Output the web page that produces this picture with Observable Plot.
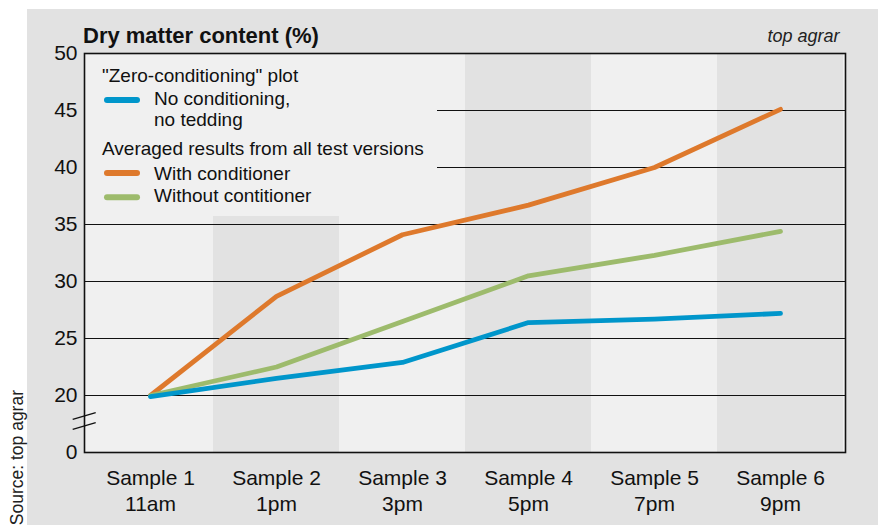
<!DOCTYPE html>
<html>
<head>
<meta charset="utf-8">
<script src="https://cdn.jsdelivr.net/npm/d3@7"></script>
<script src="https://cdn.jsdelivr.net/npm/@observablehq/plot@0.6"></script>
<style>
html, body { margin: 0; padding: 0; background: #fff; }
#chart svg {
  display: block;
  background:
    linear-gradient(#fff, #fff) 0 0 / 100% 9px no-repeat,
    linear-gradient(#fff, #fff) 0 0 / 27px 100% no-repeat,
    #e2e2e2;
}
</style>
</head>
<body>
<div id="chart"></div>
<script>
// ---- data ----
const samples = ["Sample 1", "Sample 2", "Sample 3", "Sample 4", "Sample 5", "Sample 6"];
const times = ["11am", "1pm", "3pm", "5pm", "7pm", "9pm"];
const noConditioning = [19.9, 21.5, 22.9, 26.4, 26.7, 27.2];
const withConditioner = [20.0, 28.7, 34.1, 36.7, 40.0, 45.1];
const withoutConditioner = [20.0, 22.5, 26.5, 30.5, 32.3, 34.4];
const shadedSamples = ["Sample 2", "Sample 4", "Sample 6"];
const yTicks = [15, 20, 25, 30, 35, 40, 45, 50];
const yTickLabels = ["0", "20", "25", "30", "35", "40", "45", "50"];
const gridValues = [20, 25, 30, 35, 40, 45];
const titleText = "Dry matter content (%)";
const brandText = "top agrar";
const sourceText = "Source: top agrar";
const legendGroup1 = "\"Zero-conditioning\" plot";
const legendGroup2 = "Averaged results from all test versions";
const seriesNames = ["No conditioning,\nno tedding", "With conditioner", "Without contitioner"];
const seriesColors = ["#0096cb", "#de792c", "#9dbb6c"];

// ---- layout/style ----
const FONT = "'Liberation Sans', Arial, Helvetica, sans-serif";
const LINE_W = 4.8;

const rowsOf = (vals) => samples.map((s, i) => ({sample: s, value: vals[i]}));

function overlay(draw) {
  return (...args) => {
    const dims = args.find(a => a && typeof a === "object" && "marginLeft" in a && "width" in a);
    const scales = args.find(a => a && typeof a === "object" && typeof a.y === "function");
    const g = d3.create("svg:g").attr("text-anchor", "start");
    draw(g, scales, dims);
    return g.node();
  };
}

// legend box + legend
const legendMark = overlay((g, scales, d) => {
  const L = d.marginLeft, T = d.marginTop;
  g.append("rect").attr("x", L).attr("y", T).attr("width", 353).attr("height", 163).attr("fill", "#f0f0f0");
  const txt = (x, y, s) => g.append("text").attr("x", L + x).attr("y", T + y).text(s)
    .attr("font-size", 19).attr("fill", "#111").attr("font-family", FONT).attr("text-anchor", "start");
  const sw = (y, c) => g.append("line").attr("x1", L + 23).attr("x2", L + 53)
    .attr("y1", T + y).attr("y2", T + y).attr("stroke", c).attr("stroke-width", 6).attr("stroke-linecap", "round");
  txt(18, 28.7, legendGroup1);
  sw(47, seriesColors[0]);
  const lines = seriesNames[0].split("\n");
  txt(70, 52, lines[0]);
  txt(70, 73, lines[1]);
  txt(18, 102, legendGroup2);
  sw(120, seriesColors[1]);
  txt(70, 127, seriesNames[1]);
  sw(144.3, seriesColors[2]);
  txt(70, 148.7, seriesNames[2]);
});

// titles, source, axis break
const annotMark = overlay((g, scales, d) => {
  const L = d.marginLeft, T = d.marginTop, R = d.width - d.marginRight;
  g.append("text").attr("x", L - 1).attr("y", T - 10.3).text(titleText).attr("text-anchor", "start")
    .attr("font-size", 22).attr("font-weight", "bold").attr("fill", "#111").attr("font-family", FONT);
  g.append("text").attr("x", R - 5.5).attr("y", T - 11.3).text(brandText)
    .attr("font-size", 18).attr("font-style", "italic").attr("text-anchor", "end").attr("fill", "#222").attr("font-family", FONT);
  g.append("text").attr("transform", `translate(22.5,390) rotate(-90)`).text(sourceText)
    .attr("font-size", 17.5).attr("text-anchor", "end").attr("fill", "#222").attr("font-family", FONT);
  const y20 = scales.y(20);
  for (const off of [21, 31]) {
    g.append("line").attr("x1", L - 11.3).attr("x2", L + 11.7)
      .attr("y1", y20 + off + 3.4).attr("y2", y20 + off - 3.4)
      .attr("stroke", "#111").attr("stroke-width", 1.3);
  }
});

const plot = Plot.plot({
  width: 878,
  height: 525,
  marginLeft: 84,
  marginRight: 33,
  marginTop: 53,
  marginBottom: 73,
  style: {fontFamily: FONT, color: "#111"},
  x: {type: "band", domain: samples, padding: 0},
  y: {domain: [15, 50]},
  marks: [
    Plot.frame({fill: "#f0f0f0"}),
    Plot.barY(shadedSamples, {x: d => d, y1: 15, y2: 50, fill: "#e2e2e2"}),
    Plot.ruleY(gridValues, {stroke: "#111", strokeWidth: 1.2}),
    legendMark,
    Plot.line(rowsOf(withConditioner), {x: "sample", y: "value", stroke: seriesColors[1], strokeWidth: LINE_W, strokeLinecap: "round", strokeLinejoin: "round"}),
    Plot.line(rowsOf(withoutConditioner), {x: "sample", y: "value", stroke: seriesColors[2], strokeWidth: LINE_W, strokeLinecap: "round", strokeLinejoin: "round"}),
    Plot.line(rowsOf(noConditioning), {x: "sample", y: "value", stroke: seriesColors[0], strokeWidth: LINE_W, strokeLinecap: "round", strokeLinejoin: "round"}),
    Plot.frame({stroke: "#111", strokeWidth: 1.6}),
    Plot.axisY(yTicks, {tickSize: 0, tickPadding: 7, fontSize: 21, label: null,
      tickFormat: d => yTickLabels[yTicks.indexOf(d)]}),
    Plot.axisX({tickSize: 0, tickPadding: 14, fontSize: 21, lineHeight: 1.24, label: null,
      tickFormat: d => d + "\n" + times[samples.indexOf(d)]}),
    annotMark
  ]
});

document.getElementById("chart").appendChild(plot);
</script>
</body>
</html>
